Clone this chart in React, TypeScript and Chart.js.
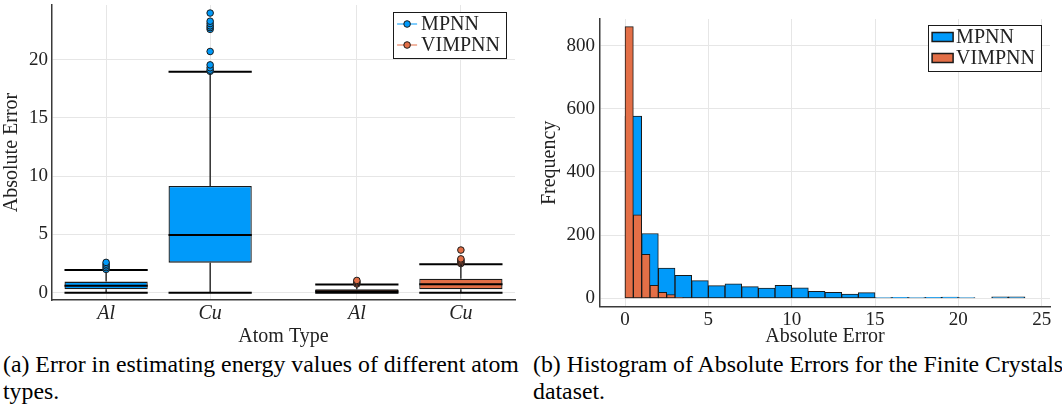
import React, { useEffect, useRef } from "react";
import { Chart, registerables } from "chart.js";

Chart.register(...registerables);

// ---------------- data ----------------
const atomTypes = ["Al", "Cu"];
const seriesNames = ["MPNN", "VIMPNN"];

// box statistics: [lower whisker, q1, median, q3, upper whisker]
const mpnnBoxAl = [0, 0.29, 0.6, 0.95, 1.95];
const mpnnBoxCu = [0, 2.58, 4.95, 9.16, 18.97];
const vimpnnBoxAl = [0, 0.03, 0.13, 0.3, 0.7];
const vimpnnBoxCu = [0, 0.3, 0.72, 1.2, 2.44];

const mpnnOutliersAl = [2.0, 2.15, 2.3, 2.45, 2.6];
const mpnnOutliersCu = [19.0, 19.1, 19.3, 19.55, 20.7, 22.6, 22.75, 22.9, 23.1, 23.3, 24.0];
const vimpnnOutliersAl = [0.75, 0.85, 0.95, 1.05];
const vimpnnOutliersCu = [2.5, 2.6, 2.7, 2.8, 2.9, 3.66];

const boxYTicks = [0, 5, 10, 15, 20];

// histogram bins
const mpnnBinStarts = [0, 1, 2, 3, 4, 5, 6, 7, 8, 9, 10, 11, 12, 13, 14, 15, 16, 17, 18, 19, 20, 21, 22, 23];
const mpnnBinWidth = 1;
const mpnnCounts = [577, 205, 96, 73, 56, 40, 46, 37, 32, 41, 33, 22, 19, 13, 18, 2, 3, 2, 3, 4, 2, 0, 5, 5];
const vimpnnBinStarts = [0, 0.5, 1.0, 1.5, 2.0, 2.5, 3.0];
const vimpnnBinWidth = 0.5;
const vimpnnCounts = [860, 264, 139, 41, 19, 12, 2];

const histXTicks = [0, 5, 10, 15, 20, 25];
const histYTicks = [0, 200, 400, 600, 800];

// ---------------- style ----------------
const FONT = "'Liberation Serif', 'Times New Roman', serif";
const TEXT = "#222222";
const GRID = "#e6e6e6";
const AXIS = "#3a3a3a";
const EDGE = "#1a1a1a";
const SERIES_COLORS = ["#009AFA", "#E36F47"];
const GROUP_GAP = 0.41;
const BOX_FRAC = 0.8;

type LegendKind = "line" | "rect";

function legendPlugin(kind: LegendKind, rightInset: number, topInset: number) {
  return {
    id: "customLegend" + kind,
    afterDraw(chart: any) {
      const ctx = chart.ctx as CanvasRenderingContext2D;
      const area = chart.chartArea;
      ctx.save();
      ctx.font = `20px ${FONT}`;
      const textW = Math.max(...seriesNames.map((n) => ctx.measureText(n).width));
      const w = 28 + textW + 6;
      const h = 46;
      const right = area.right - rightInset;
      const left = right - w;
      const top = area.top + topInset;
      ctx.fillStyle = "#ffffff";
      ctx.fillRect(left, top, w, h);
      ctx.strokeStyle = EDGE;
      ctx.lineWidth = 1;
      ctx.strokeRect(Math.round(left) + 0.5, Math.round(top) + 0.5, Math.round(w), Math.round(h));
      seriesNames.forEach((name, i) => {
        const cy = top + 12 + i * 21;
        const color = SERIES_COLORS[i];
        if (kind === "line") {
          ctx.strokeStyle = color;
          ctx.lineWidth = 1;
          ctx.beginPath();
          ctx.moveTo(left + 4, cy);
          ctx.lineTo(left + 24, cy);
          ctx.stroke();
          ctx.beginPath();
          ctx.arc(left + 14, cy, 3.3, 0, Math.PI * 2);
          ctx.fillStyle = color;
          ctx.fill();
          ctx.strokeStyle = EDGE;
          ctx.lineWidth = 1;
          ctx.stroke();
        } else {
          ctx.fillStyle = color;
          ctx.fillRect(left + 4, cy - 4.5, 21, 9);
          ctx.strokeStyle = EDGE;
          ctx.lineWidth = 1.5;
          ctx.strokeRect(left + 4, cy - 4.5, 21, 9);
        }
        ctx.fillStyle = TEXT;
        ctx.textBaseline = "middle";
        ctx.textAlign = "left";
        ctx.fillText(name, left + 28, cy + 1);
      });
      ctx.restore();
    },
  };
}

function BoxChart() {
  const ref = useRef<HTMLCanvasElement>(null);
  useEffect(() => {
    const seriesStats = [
      [mpnnBoxAl, mpnnBoxCu],
      [vimpnnBoxAl, vimpnnBoxCu],
    ];
    const seriesOut = [
      [mpnnOutliersAl, mpnnOutliersCu],
      [vimpnnOutliersAl, vimpnnOutliersCu],
    ];
    const pos = (s: number, c: number) => s * (atomTypes.length + GROUP_GAP) + c;
    const positions: number[] = [];
    const tickLabels: string[] = [];
    seriesNames.forEach((_, s) =>
      atomTypes.forEach((a, c) => {
        positions.push(pos(s, c));
        tickLabels.push(a);
      })
    );
    const H = BOX_FRAC / 2;
    const datasets: any[] = [];
    seriesNames.forEach((name, s) => {
      const color = SERIES_COLORS[s];
      const stats = seriesStats[s];
      datasets.push({
        type: "bar",
        label: name,
        data: stats.map((st, c) => ({ x: pos(s, c), y: [st[1], st[3]] })),
        backgroundColor: color,
        borderColor: EDGE,
        borderWidth: 1.3,
        borderSkipped: false,
        grouped: false,
        barPercentage: BOX_FRAC,
        categoryPercentage: 1,
        order: 5,
      });
      const whisk: any[] = [];
      const caps: any[] = [];
      const meds: any[] = [];
      stats.forEach((st, c) => {
        const x = pos(s, c);
        whisk.push({ x, y: st[3] }, { x, y: st[4] }, { x, y: null }, { x, y: st[1] }, { x, y: st[0] }, { x, y: null });
        caps.push(
          { x: x - H, y: st[4] }, { x: x + H, y: st[4] }, { x: x + H, y: null },
          { x: x - H, y: st[0] }, { x: x + H, y: st[0] }, { x: x + H, y: null }
        );
        meds.push({ x: x - H, y: st[2] }, { x: x + H, y: st[2] }, { x: x + H, y: null });
      });
      const lineBase = {
        type: "line",
        showLine: true,
        spanGaps: false,
        pointRadius: 0,
        pointHoverRadius: 0,
        fill: false,
        tension: 0,
        borderColor: "#000000",
      };
      datasets.push({ ...lineBase, label: name + " whiskers", data: whisk, borderWidth: 1.2, order: 4 });
      datasets.push({ ...lineBase, label: name + " caps", data: caps, borderWidth: 2, order: 3 });
      datasets.push({ ...lineBase, label: name + " median", data: meds, borderWidth: 2, order: 2 });
      const outs: any[] = [];
      seriesOut[s].forEach((arr, c) => arr.forEach((v) => outs.push({ x: pos(s, c), y: v })));
      datasets.push({
        type: "line",
        label: name + " outliers",
        data: outs,
        showLine: false,
        pointRadius: 3.3,
        pointHoverRadius: 3.3,
        pointBackgroundColor: color,
        pointBorderColor: EDGE,
        pointBorderWidth: 1,
        order: 1,
      });
    });

    const chart = new Chart(ref.current as HTMLCanvasElement, {
      type: "bar",
      data: { datasets },
      options: {
        animation: false,
        responsive: false,
        events: [],
        layout: { padding: { left: 0, right: 15, top: 5, bottom: 1 } },
        plugins: { legend: { display: false }, tooltip: { enabled: false } },
        scales: {
          x: {
            type: "linear",
            min: -0.52,
            max: 3.93,
            offset: false,
            afterBuildTicks: (sc: any) => {
              sc.ticks = positions.map((v) => ({ value: v }));
            },
            afterFit: (sc: any) => {
              sc.height = 49;
              sc.paddingLeft = 0;
              sc.paddingRight = 0;
            },
            ticks: {
              callback: (_v: any, i: number) => tickLabels[i],
              font: { family: FONT, size: 20, style: "italic" },
              color: TEXT,
              padding: 2,
              autoSkip: false,
              maxRotation: 0,
            },
            grid: { color: GRID, lineWidth: 1, drawTicks: false, offset: false },
            border: { display: true, color: AXIS, width: 1.5 },
            title: { display: true, text: "Atom Type", font: { family: FONT, size: 20 }, color: TEXT, padding: 0 },
          },
          y: {
            type: "linear",
            min: -0.627,
            max: 24.69,
            afterBuildTicks: (sc: any) => {
              sc.ticks = boxYTicks.map((v) => ({ value: v }));
            },
            afterFit: (sc: any) => {
              sc.width = 52;
              sc.paddingTop = 0;
              sc.paddingBottom = 0;
            },
            ticks: { font: { family: FONT, size: 19 }, color: TEXT, padding: 4 },
            grid: { color: GRID, lineWidth: 1, drawTicks: false },
            border: { display: true, color: AXIS, width: 1.5 },
            title: { display: true, text: "Absolute Error", font: { family: FONT, size: 20 }, color: TEXT, padding: 0 },
          },
        },
      } as any,
      plugins: [legendPlugin("line", 9, 7)],
    } as any);
    return () => chart.destroy();
  }, []);
  return <canvas ref={ref} width={530} height={350} style={{ display: "block", width: 530, height: 350 }} />;
}

function HistChart() {
  const ref = useRef<HTMLCanvasElement>(null);
  useEffect(() => {
    const datasets: any[] = [
      {
        type: "bar",
        label: seriesNames[0],
        xAxisID: "x",
        data: mpnnBinStarts.map((s, i) => ({ x: s + mpnnBinWidth / 2, y: mpnnCounts[i] })),
        backgroundColor: SERIES_COLORS[0],
        borderColor: EDGE,
        borderWidth: 1,
        borderSkipped: false,
        grouped: false,
        barPercentage: 1,
        categoryPercentage: 1,
        order: 2,
      },
      {
        type: "bar",
        label: seriesNames[1],
        xAxisID: "x2",
        data: vimpnnBinStarts.map((s, i) => ({ x: s + vimpnnBinWidth / 2, y: vimpnnCounts[i] })),
        backgroundColor: SERIES_COLORS[1],
        borderColor: EDGE,
        borderWidth: 1,
        borderSkipped: false,
        grouped: false,
        barPercentage: 1,
        categoryPercentage: 1,
        order: 1,
      },
    ];
    const xMin = -1.5;
    const xMax = 25.5;
    const chart = new Chart(ref.current as HTMLCanvasElement, {
      type: "bar",
      data: { datasets },
      options: {
        animation: false,
        responsive: false,
        events: [],
        layout: { padding: { left: 8, right: 12, top: 19, bottom: 1 } },
        plugins: { legend: { display: false }, tooltip: { enabled: false } },
        scales: {
          x: {
            type: "linear",
            min: xMin,
            max: xMax,
            offset: false,
            afterBuildTicks: (sc: any) => {
              sc.ticks = histXTicks.map((v) => ({ value: v }));
            },
            afterFit: (sc: any) => {
              sc.height = 42.3;
              sc.paddingLeft = 0;
              sc.paddingRight = 0;
            },
            ticks: { font: { family: FONT, size: 19 }, color: TEXT, padding: 2, autoSkip: false, maxRotation: 0 },
            grid: { color: GRID, lineWidth: 1, drawTicks: false, offset: false },
            border: { display: true, color: AXIS, width: 1.5 },
            title: { display: true, text: "Absolute Error", font: { family: FONT, size: 20 }, color: TEXT, padding: 0 },
          },
          x2: {
            type: "linear",
            display: false,
            min: xMin,
            max: xMax,
            offset: false,
            afterBuildTicks: (sc: any) => {
              sc.ticks = histXTicks.map((v) => ({ value: v }));
            },
            grid: { display: false },
          },
          y: {
            type: "linear",
            min: -26.6,
            max: 884,
            afterBuildTicks: (sc: any) => {
              sc.ticks = histYTicks.map((v) => ({ value: v }));
            },
            afterFit: (sc: any) => {
              sc.width = 62;
              sc.paddingTop = 0;
              sc.paddingBottom = 0;
            },
            ticks: { font: { family: FONT, size: 19 }, color: TEXT, padding: 5 },
            grid: { color: GRID, lineWidth: 1, drawTicks: false },
            border: { display: true, color: AXIS, width: 1.5 },
            title: { display: true, text: "Frequency", font: { family: FONT, size: 20 }, color: TEXT, padding: 0 },
          },
        },
      } as any,
      plugins: [legendPlugin("rect", 9, 6)],
    } as any);
    return () => chart.destroy();
  }, []);
  return <canvas ref={ref} width={532} height={350} style={{ display: "block", width: 532, height: 350 }} />;
}

const captionStyle: React.CSSProperties = {
  position: "absolute",
  fontFamily: FONT,
  fontSize: 23.8,
  lineHeight: "27px",
  color: "#000",
  whiteSpace: "nowrap",
};

export default function App() {
  return (
    <div style={{ position: "absolute", left: 0, top: 0, width: 1062, height: 410, background: "#fff", overflow: "hidden" }}>
      <div style={{ position: "absolute", left: 0, top: 0 }}>
        <BoxChart />
      </div>
      <div style={{ position: "absolute", left: 530, top: 0 }}>
        <HistChart />
      </div>
      <div style={{ ...captionStyle, left: 3, top: 351 }}>
        (a) Error in estimating energy values of different atom
        <br />
        types.
      </div>
      <div style={{ ...captionStyle, left: 533, top: 351 }}>
        (b) Histogram of Absolute Errors for the Finite Crystals
        <br />
        dataset.
      </div>
    </div>
  );
}
